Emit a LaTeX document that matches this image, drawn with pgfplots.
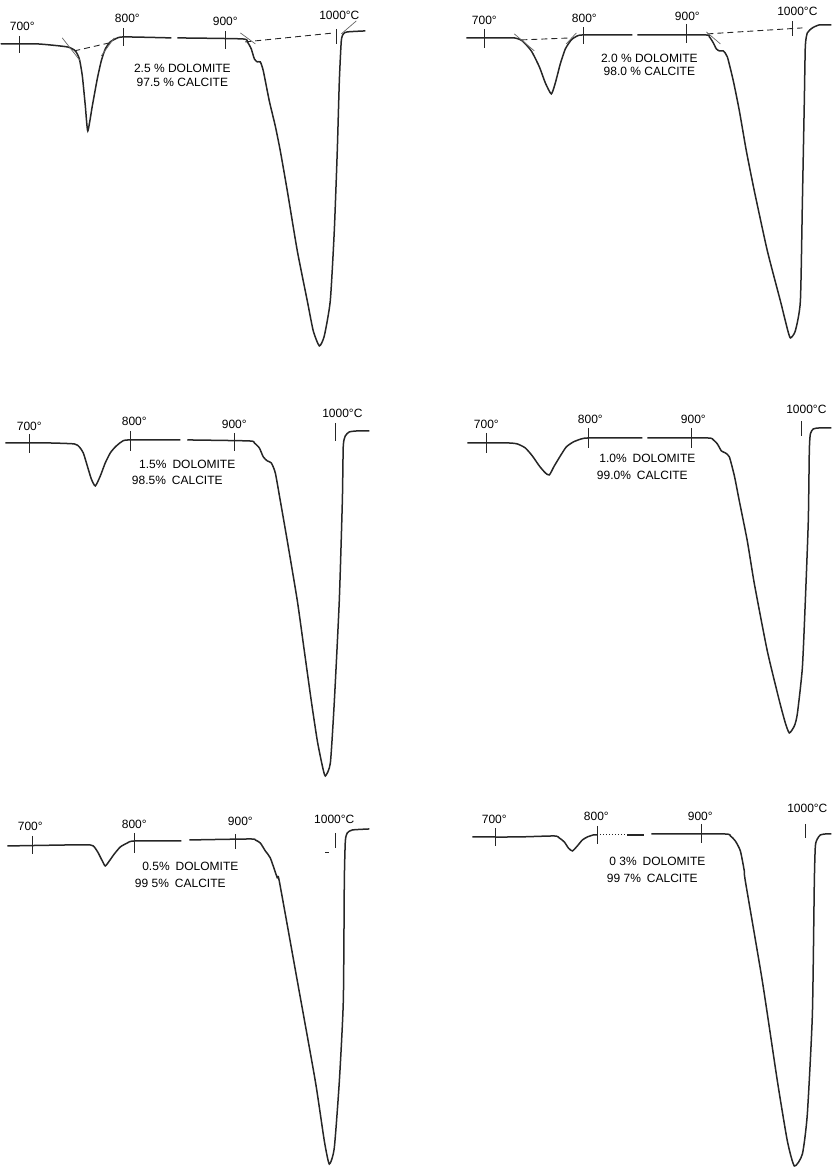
\documentclass[border=0pt]{standalone}
\usepackage{fontspec}
\setmainfont{Liberation Sans}
\usepackage{pgfplots}
\pgfplotsset{compat=1.18}

% one panel = 417 x 389.3 px of the reference, 0.5pt per px
\pgfplotsset{
  dta/.style={
    scale only axis, width=208.5pt, height=194.667pt,
    anchor=south west, hide axis, clip=false,
    cycle list={{black!85}},
    every axis plot/.append style={no marks, black!85, line width=0.75pt},
  },
  curve/.style={smooth, tension=0.35},
  tk/.style={line width=0.7pt},
  base/.style={line width=0.45pt, dash pattern=on 3pt off 2pt},
  tang/.style={line width=0.35pt, black!60},
}
\newcommand\lab{\fontsize{6}{7}\selectfont}

\begin{document}
\begin{tikzpicture}

% ---------------- 2.5 % dolomite ----------------
\begin{axis}[dta, at={(0pt,389.333pt)},
    xmin=678.64, xmax=1083.50, ymin=-346.33, ymax=43]
  \addplot[curve] coordinates {(682,0) (717.5,0) (746.6,-3) (754.4,-7) (758.3,-15)
    (761.2,-32) (764.1,-62) (766.5,-87) (770.9,-62) (775.7,-35) (779.6,-17)
    (783.5,-5) (788.3,2) (793.2,5) (801,7) (847.6,6)};
  \addplot[curve] coordinates {(853.4,6) (916.5,5) (921.4,2) (925.2,-5) (928.2,-15)
    (931.1,-18) (934,-18) (936.9,-27) (942.7,-57) (948.5,-82) (953.4,-107)
    (960.2,-147) (969.9,-207) (979.6,-257) (985.4,-287) (991.3,-302) (996.1,-292)
    (1001.9,-257) (1005.8,-187) (1008.7,-107) (1010.7,-37) (1012.6,3)
    (1014.6,10) (1018.4,12) (1035.9,13)};
  \addplot[base] coordinates {(753.4,-7) (787.4,1)};
  \addplot[base] coordinates {(919.4,2) (1005.8,11)};
  \addplot[tang] coordinates {(741.7,6) (759.2,-17)};
  \addplot[tang] coordinates {(779.6,-12) (792.2,6)};
  \addplot[tang] coordinates {(914.6,11) (929.2,0)};
  \addplot[tang] coordinates {(1012.6,10) (1027.2,23)};
  \addplot[tk] coordinates {(700,8) (700,-9)};
  \addplot[tk] coordinates {(801,16) (801,-2)};
  \addplot[tk] coordinates {(900,13) (900,-5)};
  \addplot[tk] coordinates {(1007.8,15) (1007.8,0)};
  \node[font=\lab] at (axis cs:702.9,18) {700°};
  \node[font=\lab] at (axis cs:804.9,26) {800°};
  \node[font=\lab] at (axis cs:900,23) {900°};
  \node[font=\lab] at (axis cs:1010.7,29) {1000°C};
  \node[font=\lab] at (axis cs:858.3,-24) {2.5 \% DOLOMITE};
  \node[font=\lab] at (axis cs:858.3,-38) {97.5 \% CALCITE};
\end{axis}

% ---------------- 2.0 % dolomite ----------------
\begin{axis}[dta, at={(208.5pt,389.333pt)},
    xmin=630.69, xmax=1043.56, ymin=-352.33, ymax=37]
  \addplot[curve] coordinates {(682.2,0) (712.9,0) (729.7,0) (737.6,-3) (746.5,-13)
    (754.5,-29) (760.4,-45) (766.3,-56) (770.3,-45) (775.2,-26) (780.2,-11)
    (786.1,-2) (792.1,2) (799,3) (846.5,3)};
  \addplot[curve] coordinates {(851.5,3) (917.8,3) (922.8,1) (926.7,-5) (929.7,-11)
    (932.7,-13) (936.6,-13) (940.6,-19) (946.5,-43) (952.5,-73) (959.4,-113)
    (967.3,-153) (980.2,-213) (993.1,-263) (1000,-291) (1003,-300) (1007.9,-293)
    (1012.9,-263) (1014.9,-163) (1016.8,-63) (1017.8,-8) (1019.8,5) (1024.8,10)
    (1031.7,13) (1043.5,13)};
  \addplot[base] coordinates {(736.6,-2) (786.1,0)};
  \addplot[base] coordinates {(920.8,4) (1014.9,10)};
  \addplot[tang] coordinates {(729.7,4) (749.5,-13)};
  \addplot[tang] coordinates {(781.1,-6) (791.1,5)};
  \addplot[tang] coordinates {(919.8,6) (933.7,-6)};
  \addplot[tk] coordinates {(700,9) (700,-10)};
  \addplot[tk] coordinates {(798,11) (798,-6)};
  \addplot[tk] coordinates {(900,14) (900,-5)};
  \addplot[tk] coordinates {(1005,17) (1005,2)};
  \node[font=\lab] at (axis cs:700,18) {700°};
  \node[font=\lab] at (axis cs:799,20) {800°};
  \node[font=\lab] at (axis cs:901,22) {900°};
  \node[font=\lab] at (axis cs:1009.9,27) {1000°C};
  \node[font=\lab] at (axis cs:863.4,-20) {2.0 \% DOLOMITE};
  \node[font=\lab] at (axis cs:863.4,-33) {98.0 \% CALCITE};
\end{axis}

% ---------------- 1.5 % dolomite ----------------
\begin{axis}[dta, at={(0pt,194.667pt)},
    xmin=668.78, xmax=1075.61, ymin=-336.67, ymax=52.67]
  \addplot[curve] coordinates {(676.6,0) (717.6,0) (743.9,-1) (748.8,-4) (752.7,-10)
    (756.6,-23) (760.5,-36) (764.4,-43) (769.3,-33) (774.1,-20) (779,-10)
    (783.9,-4) (789.8,1) (796.6,3) (847.3,3)};
  \addplot[curve] coordinates {(854.1,3) (914.6,2) (919.5,0) (924.4,-5) (928.3,-14)
    (932.2,-18) (936.1,-20) (940,-30) (944.9,-58) (951.7,-98) (961.5,-158)
    (968.3,-208) (975.1,-258) (981,-298) (985.9,-323) (988.8,-333) (993.7,-320)
    (997.6,-258) (1002.4,-158) (1005.4,-58) (1006.3,-3) (1008.3,7) (1012.2,11)
    (1020,12) (1031.7,12)};
  \addplot[tk] coordinates {(700,9) (700,-10)};
  \addplot[tk] coordinates {(798.5,12) (798.5,-8)};
  \addplot[tk] coordinates {(900,10) (900,-8)};
  \addplot[tk] coordinates {(998.5,20) (998.5,2)};
  \node[font=\lab] at (axis cs:700,17) {700°};
  \node[font=\lab] at (axis cs:802.4,22) {800°};
  \node[font=\lab] at (axis cs:900,19) {900°};
  \node[font=\lab] at (axis cs:1005.4,30) {1000°C};
  \node[font=\lab] at (axis cs:854.1,-21) {1.5\%\enspace DOLOMITE};
  \node[font=\lab] at (axis cs:844.4,-37) {98.5\%\enspace CALCITE};
\end{axis}

% ---------------- 1.0 % dolomite ----------------
\begin{axis}[dta, at={(208.5pt,194.667pt)},
    xmin=629.76, xmax=1036.59, ymin=-336.67, ymax=52.67]
  \addplot[curve] coordinates {(681.5,0) (720.5,0) (730.2,-1) (738,-5) (744.9,-13)
    (751.7,-23) (757.6,-30) (761.5,-32) (766.3,-23) (772.2,-13) (778,-4)
    (784.9,1) (792.7,4) (800.5,5) (852.2,5)};
  \addplot[curve] coordinates {(857.1,5) (915.6,5) (921.5,3) (925.4,-1) (929.3,-8)
    (933.2,-10) (937.1,-14) (942,-33) (946.8,-58) (954.6,-98) (961.5,-141)
    (974.1,-208) (985.9,-258) (991.7,-280) (995.6,-290) (1000.5,-283)
    (1003.4,-271) (1008.3,-225) (1011.2,-158) (1014.1,-78) (1015.1,-8)
    (1016.1,9) (1019,14) (1024.9,15) (1036.5,15)};
  \addplot[tk] coordinates {(700,10) (700,-10)};
  \addplot[tk] coordinates {(799.5,15) (799.5,-5)};
  \addplot[tk] coordinates {(900,15) (900,-5)};
  \addplot[tk] coordinates {(1007.3,22) (1007.3,7)};
  \node[font=\lab] at (axis cs:700,19) {700°};
  \node[font=\lab] at (axis cs:801.5,24) {800°};
  \node[font=\lab] at (axis cs:902,24) {900°};
  \node[font=\lab] at (axis cs:1012.2,34) {1000°C};
  \node[font=\lab] at (axis cs:857.1,-15) {1.0\%\enspace DOLOMITE};
  \node[font=\lab] at (axis cs:852.2,-32) {99.0\%\enspace CALCITE};
\end{axis}

% ---------------- 0.5 % dolomite ----------------
\begin{axis}[dta, at={(0pt,0pt)},
    xmin=665.52, xmax=1076.35, ymin=-323, ymax=66.33]
  \addplot[curve] coordinates {(675.4,0) (734.5,1) (757.1,1) (761.1,-1) (765,-7)
    (769,-15) (771.9,-20) (775.9,-15) (780.8,-8) (786.7,-1) (793.6,3)
    (800.5,5) (846.8,5)};
  \addplot[curve] coordinates {(854.7,6) (914.8,7) (919.7,6) (924.6,3) (929.6,-5)
    (934.5,-12) (941.4,-32) (943.3,-35) (961.1,-135) (978.8,-235) (987.7,-295)
    (992.6,-318) (997.5,-302) (1002.5,-235) (1006.4,-155) (1007.4,-35)
    (1008.4,5) (1010.3,13) (1015.3,16) (1032,17)};
  \addplot[tk] coordinates {(700,10) (700,-8)};
  \addplot[tk] coordinates {(800.5,13) (800.5,-7)};
  \addplot[tk] coordinates {(900,12) (900,-3)};
  \addplot[tk] coordinates {(998.5,13) (998.5,-2)};
  \addplot[line width=0.5pt] coordinates {(988.6,-7) (992.1,-7)};
  \node[font=\lab] at (axis cs:698,20) {700°};
  \node[font=\lab] at (axis cs:800.5,22) {800°};
  \node[font=\lab] at (axis cs:905,25) {900°};
  \node[font=\lab] at (axis cs:997.5,27) {1000°C};
  \node[font=\lab] at (axis cs:855.7,-20) {0.5\%\enspace DOLOMITE};
  \node[font=\lab] at (axis cs:845.8,-37) {99 5\%\enspace CALCITE};
\end{axis}

% ---------------- 0.3 % dolomite ----------------
\begin{axis}[dta, at={(208.5pt,0pt)},
    xmin=621.36, xmax=1026.21, ymin=-332, ymax=57.33]
  \addplot[curve] coordinates {(677.7,0) (721.4,0) (757.3,1) (762.1,-1) (767,-5)
    (770.9,-11) (774.8,-14) (779.6,-9) (784.5,-3) (789.3,0) (795.1,2) (799,2)};
  \addplot[line width=0.5pt, densely dotted] coordinates {(799,2) (828,2)};
  \addplot[black!85] coordinates {(828,2) (844.7,2)};
  \addplot[curve] coordinates {(851.5,3) (922.3,3) (928.2,1) (933,-4) (937.9,-14)
    (941.7,-34) (942.7,-44) (959.2,-144) (973.8,-244) (983.5,-304) (990.3,-329)
    (998.1,-317) (1002.9,-277) (1007.8,-177) (1009.7,-44) (1010.7,-9)
    (1012.6,-2) (1015.5,2) (1020.4,3) (1026.2,3)};
  \addplot[tk] coordinates {(700,9) (700,-9)};
  \addplot[tk] coordinates {(799,11) (799,-7)};
  \addplot[tk] coordinates {(900,13) (900,-6)};
  \addplot[tk] coordinates {(1001,13) (1001,-1)};
  \node[font=\lab] at (axis cs:699,18) {700°};
  \node[font=\lab] at (axis cs:798.1,21) {800°};
  \node[font=\lab] at (axis cs:899,21) {900°};
  \node[font=\lab] at (axis cs:1002.9,29) {1000°C};
  \node[font=\lab] at (axis cs:857.3,-24) {0 3\%\enspace DOLOMITE};
  \node[font=\lab] at (axis cs:852.4,-41) {99 7\%\enspace CALCITE};
\end{axis}

\end{tikzpicture}
\end{document}
